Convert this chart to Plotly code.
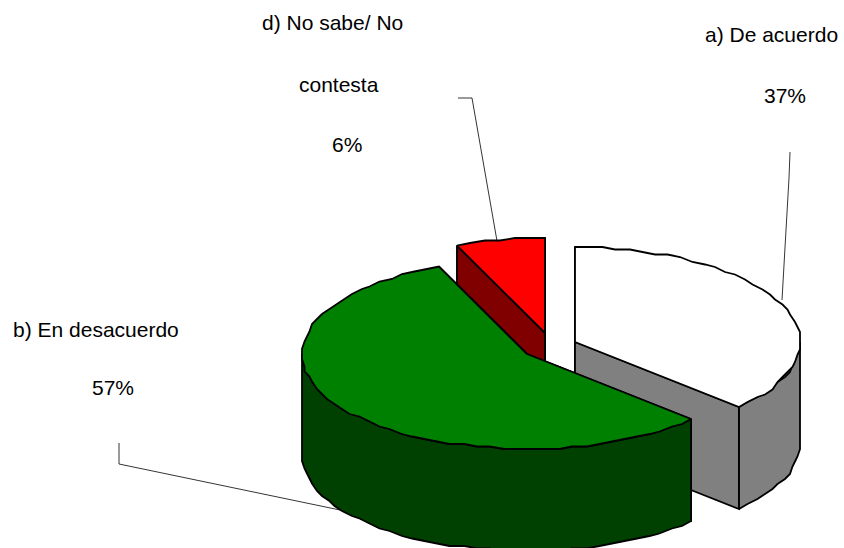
import numpy as np
import plotly.graph_objects as go

categories = ["a) De acuerdo", "b) En desacuerdo", "d) No sabe/ No contesta"]
shares = [37, 56.6, 6.4]
top_colors = ["#ffffff", "#008000", "#ff0000"]
side_colors = ["#808080", "#004000", "#800000"]
centers = [(575, 342), (527, 354), (545, 333)]
label_lines = [
    ("a) De acuerdo", 771, 34), ("37%", 785, 95),
    ("b) En desacuerdo", 96, 329), ("57%", 113, 387),
    ("d) No sabe/ No", 332, 22), ("contesta", 339, 84), ("6%", 347, 144),
]
leaders = [
    ([790, 789, 782], [152, 178, 300]),
    ([119, 119, 340], [443, 464, 510]),
    ([458, 472, 497], [98, 98, 241]),
]
RX, RY, DEPTH = 225, 95, 102
LINE = "#000000"


def rim(c, a0, a1, step=3.5, grid=2.5):
    n = max(int((a1 - a0) / step), 2)
    t = np.radians(np.linspace(a0, a1, n + 1))
    x = RX * np.sin(t)
    y = -RY * np.cos(t)
    x[1:-1] = np.round(x[1:-1] / grid) * grid
    y[1:-1] = np.round(y[1:-1] / grid) * grid
    return c[0] + x, c[1] + y


def poly(fig, x, y, fill):
    fig.add_trace(go.Scatter(x=list(x) + [x[0]], y=list(y) + [y[0]], mode="lines",
                             fill="toself", fillcolor=fill,
                             line=dict(color=LINE, width=1.8, simplify=False),
                             hoverinfo="skip", showlegend=False))


def draw_slice(fig, c, a0, a1, top, side):
    rx, ry = rim(c, a0, a1)
    # radial cut faces
    for px, py in ((rx[0], ry[0]), (rx[-1], ry[-1])):
        poly(fig, [c[0], px, px, c[0]], [c[1], py, py + DEPTH, c[1] + DEPTH], side)
    # outer wall, only the front half of the rim is visible
    lo, hi = max(a0, 90), min(a1, 270)
    if hi > lo:
        wx, wy = rim(c, lo, hi)
        poly(fig, np.r_[wx, wx[::-1]], np.r_[wy, wy[::-1] + DEPTH], side)
    poly(fig, np.r_[c[0], rx], np.r_[c[1], ry], top)


fig = go.Figure()
ends = np.cumsum(shares) / sum(shares) * 360
starts = np.r_[0, ends[:-1]]
for i in (0, 2, 1):
    draw_slice(fig, centers[i], starts[i], ends[i], top_colors[i], side_colors[i])

for lx, ly in leaders:
    fig.add_trace(go.Scatter(x=lx, y=ly, mode="lines", line=dict(color="#000000", width=0.8),
                             hoverinfo="skip", showlegend=False))

for text, x, y in label_lines:
    fig.add_annotation(x=x, y=y, text=text, showarrow=False, xanchor="center", yanchor="middle",
                       font=dict(family="Liberation Sans", size=21, color="#000000"))

fig.update_layout(width=844, height=548, margin=dict(l=0, r=0, t=0, b=0),
                  paper_bgcolor="white", plot_bgcolor="white", showlegend=False,
                  xaxis=dict(range=[0, 844], visible=False, fixedrange=True),
                  yaxis=dict(range=[548, 0], visible=False, fixedrange=True))
fig.write_html("out.html", config={"displayModeBar": False},
               post_script="document.body.style.margin='0';document.body.style.overflow='hidden';")
